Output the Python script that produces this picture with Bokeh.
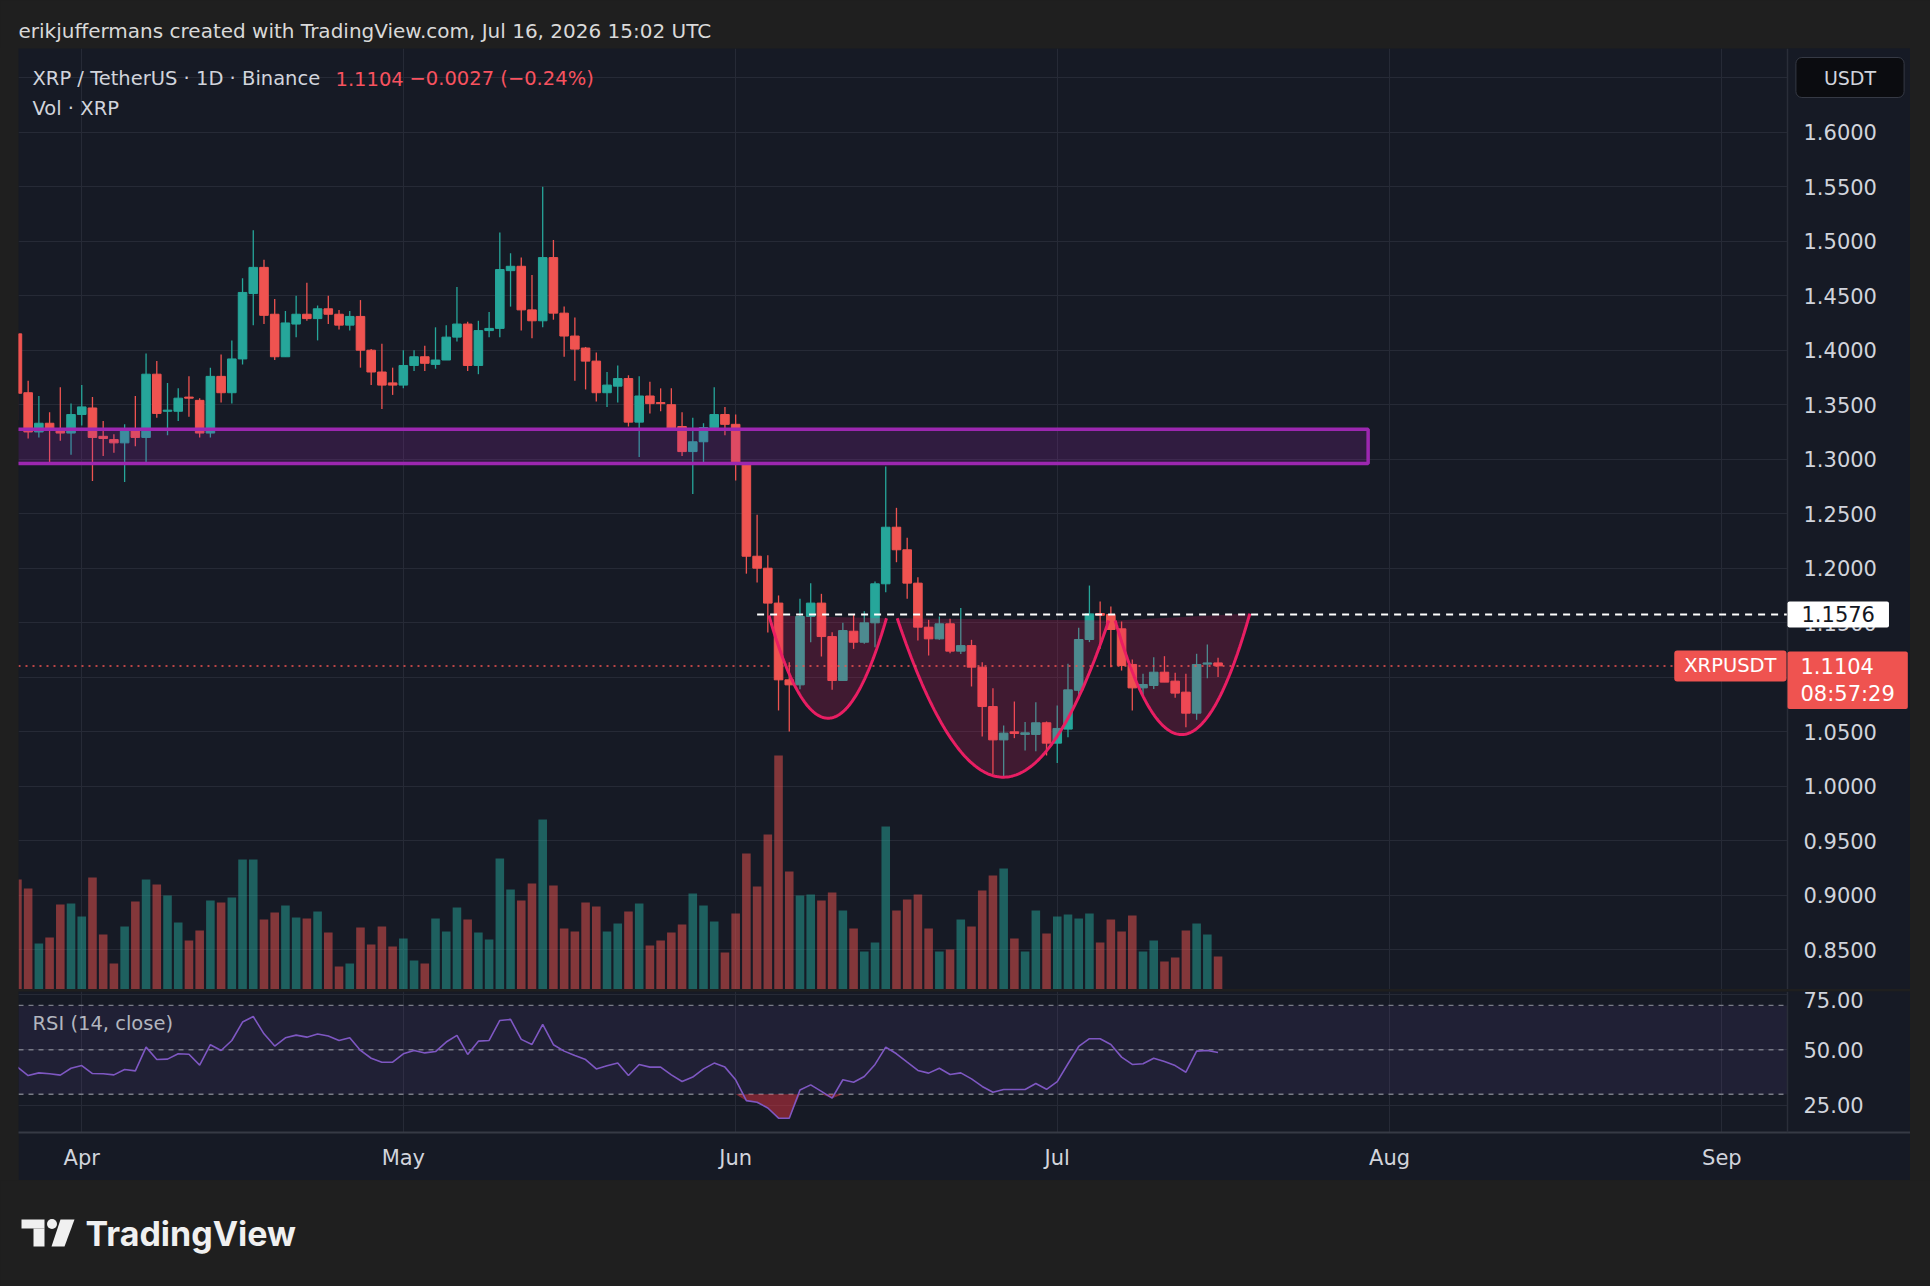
import numpy as np
import pandas as pd
from bokeh.plotting import figure
from bokeh.layouts import column, row
from bokeh.models import (Range1d, LinearAxis, FixedTicker, NumeralTickFormatter, Grid,
                          Label, BoxAnnotation, ColumnDataSource, Spacer)
from bokeh.embed import file_html
from bokeh.resources import INLINE

# ---------------- data (XRP / TetherUS, 1D, Binance) ----------------
dates = pd.date_range("2026-03-26", "2026-07-16", freq="D")

opens = [
    1.415, 1.361, 1.325, 1.333, 1.327, 1.324,
    1.341, 1.347, 1.321, 1.318, 1.315, 1.326, 1.320, 1.378, 1.344, 1.344,
    1.357, 1.354, 1.324, 1.376, 1.361, 1.392, 1.452, 1.476, 1.433, 1.394,
    1.424, 1.433, 1.429, 1.438, 1.433, 1.423, 1.431, 1.400, 1.380, 1.370,
    1.368, 1.386, 1.394, 1.387, 1.391, 1.412, 1.424, 1.386, 1.418, 1.420,
    1.473, 1.477, 1.437, 1.427, 1.485, 1.434, 1.413, 1.402, 1.390, 1.361,
    1.367, 1.374, 1.334, 1.358, 1.352, 1.350, 1.330, 1.307, 1.316, 1.329, 1.341,
    1.332, 1.297, 1.211, 1.200, 1.168, 1.0976, 1.093, 1.1557, 1.168, 1.1373,
    1.097, 1.1422, 1.1321, 1.1499, 1.1857, 1.2376, 1.2169, 1.1863, 1.1459, 1.1352,
    1.149, 1.1239, 1.129, 1.1092, 1.0731, 1.0425, 1.0499, 1.0475, 1.0475, 1.0582,
    1.0395, 1.0524, 1.088, 1.1346, 1.1584, 1.1575, 1.1444, 1.1117, 1.0902, 1.0924,
    1.1046, 1.0964, 1.0863, 1.067, 1.1120, 1.1131]
highs = [
    1.4165, 1.372, 1.358, 1.343, 1.366, 1.351,
    1.368, 1.357, 1.335, 1.323, 1.332, 1.358, 1.397, 1.390, 1.370, 1.365,
    1.376, 1.356, 1.384, 1.396, 1.409, 1.466, 1.510, 1.483, 1.447, 1.436,
    1.450, 1.462, 1.441, 1.450, 1.437, 1.436, 1.446, 1.401, 1.406, 1.384,
    1.400, 1.400, 1.404, 1.421, 1.423, 1.458, 1.426, 1.427, 1.435, 1.508,
    1.489, 1.485, 1.469, 1.550, 1.501, 1.440, 1.430, 1.403, 1.398, 1.380,
    1.386, 1.377, 1.376, 1.371, 1.365, 1.365, 1.343, 1.338, 1.333, 1.366, 1.348,
    1.341, 1.297, 1.249, 1.212, 1.175, 1.1138, 1.172, 1.1863, 1.1765, 1.1413,
    1.1499, 1.1572, 1.1606, 1.1878, 1.2933, 1.2554, 1.2279, 1.1918, 1.1526, 1.1557,
    1.1536, 1.1636, 1.1343, 1.1138, 1.0899, 1.0557, 1.0777, 1.059, 1.0771, 1.0594,
    1.0741, 1.1123, 1.1453, 1.1841, 1.1695, 1.1649, 1.1511, 1.1162, 1.1031, 1.1184,
    1.1193, 1.104, 1.1031, 1.1215, 1.130, 1.1178]
lows = [
    1.336, 1.319, 1.320, 1.296, 1.317, 1.304,
    1.331, 1.280, 1.303, 1.306, 1.279, 1.312, 1.296, 1.338, 1.322, 1.335,
    1.339, 1.320, 1.320, 1.352, 1.351, 1.387, 1.423, 1.424, 1.391, 1.394,
    1.412, 1.427, 1.409, 1.424, 1.419, 1.418, 1.384, 1.368, 1.346, 1.359,
    1.365, 1.381, 1.381, 1.383, 1.391, 1.408, 1.381, 1.378, 1.412, 1.412,
    1.440, 1.418, 1.411, 1.421, 1.428, 1.394, 1.372, 1.364, 1.353, 1.348,
    1.352, 1.330, 1.302, 1.342, 1.344, 1.328, 1.303, 1.268, 1.296, 1.328, 1.322,
    1.2805, 1.195, 1.187, 1.141, 1.0695, 1.0502, 1.089, 1.1321, 1.119, 1.0884,
    1.097, 1.126, 1.1306, 1.1275, 1.178, 1.2055, 1.1719, 1.1337, 1.1199, 1.1343,
    1.122, 1.1214, 1.0915, 1.0456, 1.0113, 1.0089, 1.0441, 1.0327, 1.032, 1.0282,
    1.0214, 1.045, 1.0823, 1.1322, 1.126, 1.1092, 1.1061, 1.0695, 1.0832, 1.0893,
    1.0955, 1.0811, 1.0542, 1.0609, 1.0991, 1.1001]
closes = [
    1.3605, 1.325, 1.333, 1.327, 1.324, 1.341,
    1.348, 1.320, 1.319, 1.315, 1.326, 1.320, 1.378, 1.342, 1.345, 1.356,
    1.356, 1.324, 1.376, 1.361, 1.392, 1.453, 1.476, 1.432, 1.394, 1.425,
    1.433, 1.429, 1.438, 1.433, 1.423, 1.431, 1.400, 1.380, 1.368, 1.368,
    1.386, 1.394, 1.388, 1.391, 1.412, 1.424, 1.386, 1.418, 1.420, 1.474,
    1.477, 1.437, 1.427, 1.485, 1.434, 1.413, 1.401, 1.390, 1.361, 1.368,
    1.374, 1.334, 1.358, 1.351, 1.351, 1.328, 1.307, 1.316, 1.329, 1.341, 1.332,
    1.297, 1.211, 1.200, 1.168, 1.0976, 1.093, 1.1557, 1.168, 1.1373, 1.097,
    1.1428, 1.1321, 1.1499, 1.1857, 1.2376, 1.2169, 1.1863, 1.1459, 1.1352, 1.149,
    1.1239, 1.129, 1.1092, 1.0731, 1.0425, 1.0487, 1.0484, 1.049, 1.0582, 1.0395,
    1.053, 1.0884, 1.1346, 1.1581, 1.1569, 1.1438, 1.1107, 1.0902, 1.0933, 1.1046,
    1.0955, 1.0854, 1.067, 1.1117, 1.1131, 1.1104]
# volume, millions of XRP (relative)
volumes = [
    110, 101, 46, 52, 85, 86,
    73, 112, 55, 26, 63, 88, 110, 105, 94, 67,
    49, 59, 89, 87, 92, 130, 130, 70, 77, 84,
    72, 71, 78, 57, 23, 26, 62, 45, 63, 43,
    51, 29, 26, 71, 58, 82, 70, 57, 50, 131,
    100, 89, 106, 170, 104, 61, 58, 87, 83, 58,
    66, 78, 86, 44, 49, 57, 65, 96, 84, 68, 37,
    76, 136, 103, 155, 234, 118, 94, 95, 89, 97,
    79, 61, 38, 47, 163, 79, 90, 95, 61, 38,
    40, 70, 63, 99, 114, 121, 51, 38, 79, 56,
    73, 75, 71, 76, 47, 70, 58, 74, 38, 49,
    28, 32, 59, 66, 55, 33]
rsi = [
    42.2, 38.4, 39.6, 39.2, 38.6, 41.7, 42.9, 39.3, 39.2, 38.7,
    41.1, 40.5, 51.2, 45.6, 45.8, 48.2, 48.0, 43.1, 52.3, 49.7,
    54.2, 62.5, 65.0, 57.2, 51.7, 55.4, 56.6, 55.7, 57.1, 56.2,
    54.2, 55.4, 49.7, 46.2, 44.4, 44.4, 48.2, 49.7, 48.6, 49.2,
    53.5, 56.5, 47.9, 53.9, 54.2, 63.2, 63.7, 54.7, 52.4, 61.4,
    52.3, 49.4, 47.4, 45.6, 41.4, 42.8, 44.1, 38.4, 43.4, 42.2,
    42.2, 38.7, 35.7, 37.7, 41.4, 44.0, 42.2, 36.5, 27.1, 26.4,
    23.8, 19.2, 19.2, 31.9, 34.2, 31.3, 28.2, 36.5, 35.4, 38.0,
    43.4, 51.2, 48.2, 44.4, 40.7, 39.5, 41.7, 38.9, 39.6, 36.9,
    33.5, 30.9, 32.1, 32.1, 32.1, 34.8, 32.2, 35.7, 43.7, 51.5,
    55.0, 55.0, 52.4, 46.7, 43.4, 43.7, 46.2, 44.7, 42.9, 39.9,
    49.4, 49.7, 48.8]

month_labels = ["Apr", "May", "Jun", "Jul", "Aug", "Sep"]
month_starts = ["2026-04-01", "2026-05-01", "2026-06-01", "2026-07-01", "2026-08-01", "2026-09-01"]
price_ticks = [0.85, 0.90, 0.95, 1.00, 1.05, 1.10, 1.15, 1.20, 1.25, 1.30, 1.35,
               1.40, 1.45, 1.50, 1.55, 1.60, 1.65]
rsi_ticks = [25, 50, 75]
rsi_levels = [70, 50, 30]

# drawings
zone_dates = ["2026-03-10", "2026-07-30"]       # support/resistance box
zone_low, zone_high = 1.2960, 1.3275
neck_date, neck_price = "2026-06-03", 1.1576
cup_start_day = [64.1, 76.07, 96.4]               # days after Apr 1
cup_start_price = [1.1566, 1.1541, 1.1520]
cup_end_day = [75.07, 95.8, 108.97]
cup_end_price = [1.1541, 1.1520, 1.1584]
cup_low_price = [1.0624, 1.0083, 1.0474]

last_price = 1.1104
change_text = "\u22120.0027 (\u22120.24%)"
countdown = "08:57:29"

# ---------------- geometry / helpers ----------------
origin = pd.Timestamp("2026-04-01")
day = np.array((dates - origin).days, dtype=float)
month_days = [int((pd.Timestamp(m) - origin).days) for m in month_starts]
o, h, l, c = map(np.array, (opens, highs, lows, closes))
UP, DOWN = "#26a69a", "#ef5350"
colors = np.where(c >= o, UP, DOWN)

BG = "#161a25"
OUT = "#1f1f1f"
GRID = "#262a36"
TXT = "#d1d4dc"
FONT = "DejaVu Sans"
TFS = "19.5px"     # legend text size
AFS = "21px"       # axis text size

PANEL_L, PANEL_R, AXIS_X = 18, 1910, 1787   # page px
MAIN_T, MAIN_B = 48, 989
RSI_T, RSI_B = 991, 1132
x_start = -5.9
DAY_PER_PX = 165.02 / (AXIS_X - PANEL_L)
y_top, y_bot = 1.6768, 0.8135
r_top, r_bot = 76.26, 12.75


def day_at(px):
    return x_start + (px - PANEL_L) * DAY_PER_PX


def price_at(py):
    return y_top - (py - MAIN_T) * (y_top - y_bot) / (MAIN_B - MAIN_T)


def rsi_at(py):
    return r_top - (py - RSI_T) * (r_top - r_bot) / (RSI_B - RSI_T)


x_end = day_at(PANEL_R)
x_axis = day_at(AXIS_X)

src = ColumnDataSource(dict(day=day, open=o, high=h, low=l, close=c,
                            btop=np.maximum(o, c), bbot=np.minimum(o, c),
                            vol=np.array(volumes, float), color=colors))


def lab(fig, x, y, text, **kw):
    opts = dict(text_font=FONT, text_font_size=TFS, text_color=TXT,
                text_baseline="middle", level="overlay")
    opts.update(kw)
    fig.add_layout(Label(x=x, y=y, text=text, **opts))


def price_scale(fig, ticks, fmt):
    ax = LinearAxis(ticker=FixedTicker(ticks=ticks), formatter=NumeralTickFormatter(format=fmt),
                    fixed_location=x_axis)
    ax.axis_line_color = "#2a2e39"
    ax.axis_line_width = 1.5
    ax.major_tick_line_color = None
    ax.minor_tick_line_color = None
    ax.major_label_standoff = 10
    ax.major_label_text_font = FONT
    ax.major_label_text_font_size = AFS
    ax.major_label_text_color = TXT
    fig.add_layout(ax, "right")


# ---------------- main price pane ----------------
xr = Range1d(x_start, x_end)
p = figure(width=PANEL_R - PANEL_L, height=MAIN_B - MAIN_T, x_range=xr,
           y_range=Range1d(y_bot, y_top), x_axis_type=None, y_axis_type=None,
           toolbar_location=None, output_backend="svg",
           min_border_left=0, min_border_right=0, min_border_top=0, min_border_bottom=0,
           background_fill_color=BG, border_fill_color=BG, outline_line_color=None)
p.extra_y_ranges = {"vol": Range1d(0, MAIN_B - MAIN_T)}

p.add_layout(Grid(dimension=1, ticker=FixedTicker(ticks=price_ticks), grid_line_color=GRID))
p.add_layout(Grid(dimension=0, ticker=FixedTicker(ticks=month_days), grid_line_color=GRID))
# price-scale strip
p.quad(left=[x_axis], right=[x_end + 1], bottom=[y_bot - 1], top=[y_top + 1],
       fill_color=BG, line_color=None)

p.vbar(x="day", top="vol", bottom=0, width=0.8, y_range_name="vol", source=src,
       fill_color="color", fill_alpha=0.5, line_color=None)
p.segment(x0="day", y0="low", x1="day", y1="high", line_color="color", line_width=1.3, source=src)
p.vbar(x="day", top="btop", bottom="bbot", width=0.8, fill_color="color", line_color="color",
       line_width=1, source=src)

zl = [(pd.Timestamp(d) - origin).days for d in zone_dates]
p.quad(left=[zl[0]], right=[zl[1]], bottom=[zone_low], top=[zone_high],
       fill_color="#9c27b0", fill_alpha=0.2, line_color="#9c27b0", line_width=3.5)

t = np.linspace(0, 1, 120)
for x0, y0, x1, y1, ylow in zip(cup_start_day, cup_start_price, cup_end_day, cup_end_price, cup_low_price):
    xm = (x0 + x1) / 2
    yc = 2 * ylow - (y0 + y1) / 2
    xs = (1 - t) ** 2 * x0 + 2 * (1 - t) * t * xm + t ** 2 * x1
    ys = (1 - t) ** 2 * y0 + 2 * (1 - t) * t * yc + t ** 2 * y1
    p.patch(xs, ys, fill_color="#e91e63", fill_alpha=0.2, line_color=None)
    p.line(xs, ys, line_color="#e91e63", line_width=3)

neck_day = (pd.Timestamp(neck_date) - origin).days
p.segment(x0=[neck_day], y0=[neck_price], x1=[x_axis], y1=[neck_price], line_color="white",
          line_dash="7 6", line_width=2)
p.segment(x0=[x_start], y0=[last_price], x1=[x_axis], y1=[last_price], line_color=DOWN,
          line_dash="2 5", line_width=1.5)

price_scale(p, price_ticks, "0.0000")

lab(p, day_at(32), price_at(78), "XRP / TetherUS \u00b7 1D \u00b7 Binance")
lab(p, day_at(335), price_at(78), f"{last_price:.4f}", text_color="#f7525f")
lab(p, day_at(409), price_at(78), change_text, text_color="#f7525f")
lab(p, day_at(32), price_at(108), "Vol \u00b7 XRP")

# tags (Label anchors are the edges of their boxes)
lab(p, day_at(1849.5), price_at(77), "USDT", text_font_size="19px", text_align="center",
    background_fill_color="#0b0c10", border_line_color="#363a45",
    padding=(28, 9), border_radius=6)
lab(p, day_at(AXIS_X), neck_price, f"{neck_price:.4f}", text_font_size=AFS, text_color="#131722",
    background_fill_color="white", padding=(14, 5), border_radius=2)
lab(p, day_at(1786), last_price, "XRPUSDT", text_color="white",
    text_align="right", background_fill_color=DOWN, padding=(10, 4), border_radius=3)
lab(p, day_at(AXIS_X), price_at(651), f"{last_price:.4f}\n{countdown}", text_font_size=AFS,
    text_color="white", text_baseline="top", background_fill_color=DOWN, padding=(13, 3),
    border_radius=2, text_line_height=1.15)

# ---------------- separator ----------------
sep = figure(width=PANEL_R - PANEL_L, height=2, x_range=Range1d(0, 1), y_range=Range1d(0, 1),
             x_axis_type=None, y_axis_type=None, toolbar_location=None, output_backend="svg",
             min_border=0, background_fill_color="#c8cbd2", border_fill_color="#c8cbd2",
             outline_line_color=None)

# ---------------- RSI pane ----------------
r = figure(width=PANEL_R - PANEL_L, height=RSI_B - RSI_T + 48, x_range=xr,
           y_range=Range1d(r_bot, r_top), x_axis_type=None, y_axis_type=None,
           toolbar_location=None, output_backend="svg",
           min_border_left=0, min_border_right=0, min_border_top=0, min_border_bottom=48,
           background_fill_color=BG, border_fill_color=BG, outline_line_color=None)
r.add_layout(Grid(dimension=1, ticker=FixedTicker(ticks=rsi_ticks), grid_line_color=GRID))
r.add_layout(Grid(dimension=0, ticker=FixedTicker(ticks=month_days), grid_line_color=GRID))
r.add_layout(BoxAnnotation(bottom=rsi_levels[2], top=rsi_levels[0], right=x_axis,
                           fill_color="#7e57c2", fill_alpha=0.1, line_color=None, level="underlay"))
r.quad(left=[x_axis], right=[x_end + 1], bottom=[r_bot - 5], top=[r_top + 5],
       fill_color=BG, line_color=None)
r.segment(x0=[x_start] * 3, y0=rsi_levels, x1=[x_axis] * 3, y1=rsi_levels,
          line_color="#787b86", line_dash="5 5", line_width=1.4)
rs = np.array(rsi)
r.varea(x=day, y1=np.minimum(rs, rsi_levels[2]), y2=rsi_levels[2], fill_color="#f23645", fill_alpha=0.45)
r.line(day, rs, line_color="#7e57c2", line_width=1.6)

price_scale(r, rsi_ticks, "0.00")

xax = LinearAxis(ticker=FixedTicker(ticks=month_days),
                 major_label_overrides={d: m for d, m in zip(month_days, month_labels)})
xax.axis_line_color = "#363a45"
xax.axis_line_width = 2
xax.major_tick_line_color = None
xax.minor_tick_line_color = None
xax.major_label_standoff = 7
xax.major_label_text_font = FONT
xax.major_label_text_font_size = AFS
xax.major_label_text_color = TXT
r.add_layout(xax, "below")

lab(r, day_at(32), rsi_at(1023), "RSI (14, close)", text_color="#b2b5be")

# ---------------- header / footer ----------------
header = figure(width=1930, height=48, x_range=Range1d(0, 1930), y_range=Range1d(0, 48),
                x_axis_type=None, y_axis_type=None, toolbar_location=None, output_backend="svg",
                min_border=0, background_fill_color=OUT, border_fill_color=OUT,
                outline_line_color=None)
header.add_layout(Label(x=18, y=18, text="erikjuffermans created with TradingView.com, Jul 16, 2026 15:02 UTC",
                        text_font=FONT, text_font_size="20px", text_color="#d9d9d9",
                        text_baseline="middle"))

footer = figure(width=1930, height=106, x_range=Range1d(0, 1930), y_range=Range1d(0, 106),
                x_axis_type=None, y_axis_type=None, toolbar_location=None, output_backend="svg",
                min_border=0, background_fill_color=OUT, border_fill_color=OUT,
                outline_line_color=None)
LOGO = "#f0f0f0"
footer.quad(left=[21], right=[44], top=[67], bottom=[58], fill_color=LOGO, line_color=None)
footer.quad(left=[33], right=[44], top=[58], bottom=[40], fill_color=LOGO, line_color=None)
footer.scatter(x=[51.5], y=[62.5], size=10, fill_color=LOGO, line_color=None)
footer.patch(x=[60, 74, 64, 51], y=[67, 67, 40, 40], fill_color=LOGO, line_color=None)
footer.add_layout(Label(x=85, y=53, text="TradingView", text_font="Inter", text_font_size="34px",
                        text_font_style="bold", text_color=LOGO, text_baseline="middle"))

panel = column(p, sep, r, spacing=0)
mid = row(Spacer(width=PANEL_L, height=RSI_B + 48 - MAIN_T), panel,
          Spacer(width=1930 - PANEL_R, height=RSI_B + 48 - MAIN_T), spacing=0)
root = column(header, mid, footer, spacing=0, styles={"background-color": OUT})

open("out.html", "w").write(file_html(root, INLINE))
